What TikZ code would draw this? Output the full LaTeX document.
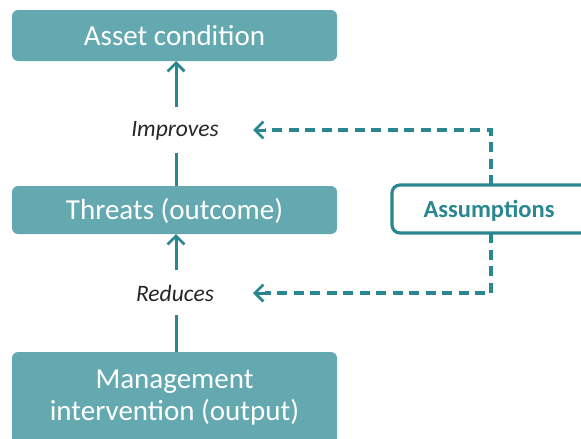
\documentclass[tikz,border=0pt]{standalone}
\usepackage{fontspec}
\setmainfont{Carlito}
\usetikzlibrary{arrows.meta}
\definecolor{boxfill}{HTML}{64A9B0}
\definecolor{teal}{HTML}{2A8790}
\begin{document}
\begin{tikzpicture}[x=1pt,y=-1pt,
  mainbox/.style={draw=none,fill=boxfill,rounded corners=6pt},
  boxtext/.style={text=white,font=\fontsize{29}{32}\selectfont,align=center,inner sep=0pt},
  label/.style={font=\fontsize{23.5}{26}\selectfont\itshape,text=black!85,inner sep=0pt},
  link/.style={draw=teal,line width=3pt},
  tip/.style={-{Straight Barb[length=8.5pt,width=17pt,line width=2.8pt]}},
  dashlink/.style={draw=teal,line width=3.2pt,dash pattern=on 10pt off 6.5pt}]
\useasboundingbox (0,0) rectangle (581,439);
\begin{scope}
\clip (0,0) rectangle (581,439);
% outcome chain
\path[mainbox] (12,10) rectangle (337,61);
\node[boxtext] (asset) at (174.5,36) {Asset condition};
\coordinate (assetb) at (176,61);
\path[mainbox] (12,186) rectangle (337,234);
\node[boxtext] (threat) at (174.5,211) {Threats (outcome)};
\coordinate (threatt) at (176,186);
\coordinate (threatb) at (176,234);
\path[mainbox] (12,352) rectangle (337,460);
\node[boxtext] (mgmt) at (174.5,398) {Management\\intervention (output)};
\coordinate (mgmtt) at (176,352);
% labels between the boxes
\node[label] (imp) at (175,131) {Improves};
\node[label] (red) at (175,293) {Reduces};
\coordinate (impt) at (176,107);
\coordinate (impb) at (176,153);
\coordinate (redt) at (176,270);
\coordinate (redb) at (176,315);
\draw[link,tip] (impt) -- (assetb);
\draw[link] (impb) -- (threatt);
\draw[link,tip] (redt) -- (threatb);
\draw[link] (redb) -- (mgmtt);
% assumptions
\draw[draw=teal,line width=3.2pt,fill=white,rounded corners=8pt] (392,185) rectangle (600,233);
\node[font=\fontsize{24.5}{28}\selectfont\bfseries,text=teal] (assum) at (489,211) {Assumptions};
\coordinate (at) at (491,185);
\coordinate (ab) at (491,233);
\coordinate (it) at (253,130);
\coordinate (rt) at (253,293);
\draw[dashlink] (at) -- (491,130) -- (265,130);
\draw[link,tip] (266,130) -- (it);
\draw[dashlink] (ab) -- (491,293) -- (265,293);
\draw[link,tip] (266,293) -- (rt);
\end{scope}
\end{tikzpicture}
\end{document}
